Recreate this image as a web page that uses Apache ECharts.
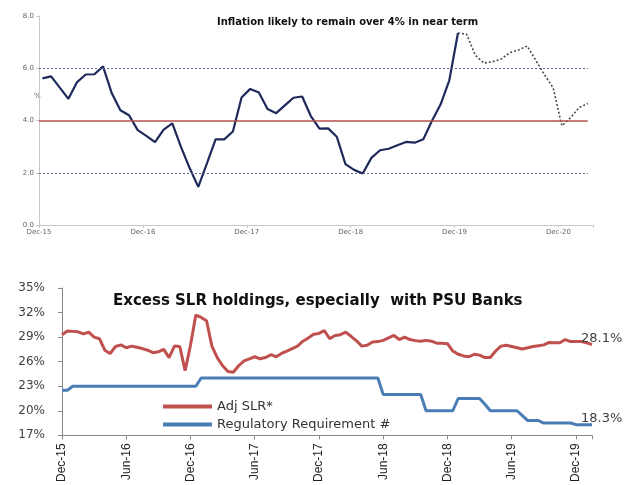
<!DOCTYPE html>
<html><head><meta charset="utf-8">
<script src="https://cdn.jsdelivr.net/npm/echarts@6/dist/echarts.min.js"></script>
<style>html,body{margin:0;padding:0;background:#fff}#c{width:632px;height:485px}</style>
</head><body><div id="c"></div>
<script>
// ---------- Top chart: CPI inflation (%), monthly from Dec-15 ----------
const cpiTickLabels = ['Dec-15','Dec-16','Dec-17','Dec-18','Dec-19','Dec-20'];
// Actual, Dec-15 .. Dec-19
const cpiActual = [5.61, 5.69, 5.26, 4.83, 5.47, 5.76, 5.77, 6.07, 5.05, 4.39, 4.20, 3.63, 3.41,
  3.17, 3.65, 3.89, 2.99, 2.18, 1.46, 2.36, 3.28, 3.28, 3.58, 4.88, 5.21,
  5.07, 4.44, 4.28, 4.58, 4.87, 4.92, 4.17, 3.69, 3.70, 3.38, 2.33, 2.11,
  1.97, 2.57, 2.86, 2.92, 3.05, 3.18, 3.15, 3.28, 3.99, 4.62, 5.54, 7.35];
// Projection, Dec-19 .. Mar-21
const cpiProjection = [7.35, 7.30, 6.50, 6.20, 6.25, 6.35, 6.60, 6.70, 6.85, 6.30, 5.75, 5.25, 3.80, 4.10, 4.50, 4.65];
const cpiProjStart = 48;

// ---------- Bottom chart: SLR holdings (%), fortnightly from Dec-15 ----------
const slrTickLabels = ['Dec-15','Jun-16','Dec-16','Jun-17','Dec-17','Jun-18','Dec-18','Jun-19','Dec-19'];
const adjSLR = [29.3, 29.75, 29.7, 29.65, 29.4, 29.6, 29.0, 28.8, 27.4, 27.0,
  27.85, 28.05, 27.7, 27.9, 27.75, 27.6, 27.4, 27.1, 27.2, 27.5,
  26.5, 27.9, 27.85, 24.9, 28.0, 31.7, 31.4, 31.0, 27.9, 26.5,
  25.5, 24.8, 24.7, 25.5, 26.1, 26.35, 26.6, 26.35, 26.5, 26.85,
  26.6, 27.0, 27.3, 27.6, 27.9, 28.5, 28.9, 29.35, 29.45, 29.8,
  28.8, 29.2, 29.3, 29.6, 29.1, 28.55, 27.9, 28.0, 28.4, 28.45,
  28.6, 28.9, 29.2, 28.7, 29.0, 28.7, 28.57, 28.5, 28.6, 28.5,
  28.26, 28.26, 28.2, 27.3, 26.9, 26.7, 26.6, 26.9, 26.8, 26.5,
  26.5, 27.3, 27.9, 28.0, 27.85, 27.7, 27.55, 27.7, 27.85, 27.95,
  28.05, 28.35, 28.3, 28.3, 28.7, 28.45, 28.45, 28.45, 28.3, 28.1];
const regReq = [22.5, 22.5,
  23, 23, 23, 23, 23, 23, 23, 23, 23, 23, 23, 23, 23, 23, 23, 23, 23, 23, 23, 23, 23, 23, 23, 23,
  24, 24, 24, 24, 24, 24, 24, 24, 24, 24, 24, 24, 24, 24, 24, 24, 24,
  24, 24, 24, 24, 24, 24, 24, 24, 24, 24, 24, 24, 24, 24, 24, 24, 24,
  22, 22, 22, 22, 22, 22, 22, 22,
  20, 20, 20, 20, 20, 20,
  21.5, 21.5, 21.5, 21.5, 21.5, 20.8,
  20, 20, 20, 20, 20, 20, 19.4,
  18.8, 18.8, 18.8,
  18.5, 18.5, 18.5, 18.5, 18.5, 18.5,
  18.3, 18.3, 18.3, 18.3];

const chart = echarts.init(document.getElementById('c'), null, {renderer: 'canvas'});

const MID = 0.4; // monthly points sit slightly inside each month band
const actualData = cpiActual.map((v, i) => [i + MID, v]);
const projData = cpiProjection.map((v, i) => [cpiProjStart + i + MID, v]);
const toXY = arr => arr.map((v, i) => [i, v]);

const endLabel = {
  show: true, distance: 5, offset: [-16, -6],
  formatter: p => p.value[1].toFixed(1) + '%',
  fontFamily: 'DejaVu Sans', fontSize: 13, color: '#404040'
};

const grey = '#c8c8c8';
const option = {
  animation: false,
  backgroundColor: '#ffffff',
  title: [
    {text: 'Inflation likely to remain over 4% in near term', left: 212, top: 12,
      textStyle: {fontFamily: 'DejaVu Sans', fontWeight: 'bold', fontSize: 10, color: '#111'}},
    {text: 'Excess SLR holdings, especially  with PSU Banks', left: 108, top: 289,
      textStyle: {fontFamily: 'DejaVu Sans', fontWeight: 'bold', fontSize: 15, color: '#111'}}
  ],
  legend: {
    orient: 'vertical', left: 163, top: 400, padding: 0,
    icon: 'rect', itemWidth: 49, itemHeight: 4, itemGap: 5,
    data: ['Adj SLR*', 'Regulatory Requirement #'],
    textStyle: {fontFamily: 'DejaVu Sans', fontSize: 13, color: '#333'}
  },
  graphic: [
    {type: 'text', left: 34, top: 93, style: {text: '%', fontFamily: 'DejaVu Sans', fontSize: 7, fill: '#666'}}
  ],
  grid: [
    {left: 39, top: 16, width: 554, height: 209},
    {left: 62, top: 288, width: 530, height: 156}
  ],
  xAxis: [
    {gridIndex: 0, type: 'value', min: 0, max: 64, interval: 12,
      axisLine: {lineStyle: {color: grey}}, axisTick: {show: true, length: 3, lineStyle: {color: grey}},
      splitLine: {show: false},
      axisLabel: {fontFamily: 'DejaVu Sans', fontSize: 7, color: '#666', margin: 4,
        formatter: v => (v % 12 === 0 ? (cpiTickLabels[v / 12] || '') : '')}},
    {gridIndex: 1, type: 'value', min: 0, max: 99, interval: 12,
      axisLine: {lineStyle: {color: '#868686'}}, axisTick: {show: true, length: 4, lineStyle: {color: '#868686'}},
      splitLine: {show: false},
      axisLabel: {fontFamily: 'Liberation Sans', fontSize: 12, color: '#222', rotate: 90, margin: 8,
        formatter: v => (v % 12 === 0 ? (slrTickLabels[v / 12] || '') : '')}}
  ],
  yAxis: [
    {gridIndex: 0, type: 'value', min: 0, max: 8, interval: 2,
      axisLine: {show: true, lineStyle: {color: grey}}, axisTick: {show: true, length: 3, lineStyle: {color: grey}},
      splitLine: {show: false},
      axisLabel: {fontFamily: 'DejaVu Sans', fontSize: 7, color: '#666', margin: 5, formatter: v => v.toFixed(1)}},
    {gridIndex: 1, type: 'value', min: 17, max: 35, interval: 3,
      axisLine: {show: true, lineStyle: {color: '#868686'}}, axisTick: {show: true, length: 4, lineStyle: {color: '#868686'}},
      splitLine: {show: false},
      axisLabel: {fontFamily: 'DejaVu Sans', fontSize: 12, color: '#404040', margin: 17, formatter: v => v + '%'}}
  ],
  series: [
    {name: 'Projection', type: 'line', xAxisIndex: 0, yAxisIndex: 0, data: projData,
      showSymbol: false, lineStyle: {color: '#4a4a4a', width: 1.6, type: [2, 2]},
      markLine: {silent: true, symbol: 'none', label: {show: false},
        data: [
          [{coord: [0, 2], lineStyle: {color: '#5b5f8c', width: 1.2, type: [2, 2]}}, {coord: [63.4, 2]}],
          [{coord: [0, 6], lineStyle: {color: '#5b5f8c', width: 1.2, type: [2, 2]}}, {coord: [63.4, 6]}],
          [{coord: [0, 4], lineStyle: {color: '#b5514e', width: 1.5, type: 'solid'}}, {coord: [63.4, 4]}]
        ]}},
    {name: 'CPI', type: 'line', xAxisIndex: 0, yAxisIndex: 0, data: actualData,
      showSymbol: false, lineStyle: {color: '#1f2a5c', width: 2.2}},
    {name: 'Adj SLR*', type: 'line', xAxisIndex: 1, yAxisIndex: 1, data: toXY(adjSLR),
      showSymbol: false, color: '#c0504d', lineStyle: {color: '#c0504d', width: 3}, endLabel: endLabel},
    {name: 'Regulatory Requirement #', type: 'line', xAxisIndex: 1, yAxisIndex: 1, data: toXY(regReq),
      showSymbol: false, color: '#4a7db5', lineStyle: {color: '#4a7db5', width: 3}, endLabel: endLabel}
  ]
};
chart.setOption(option);
</script>
</body></html>
